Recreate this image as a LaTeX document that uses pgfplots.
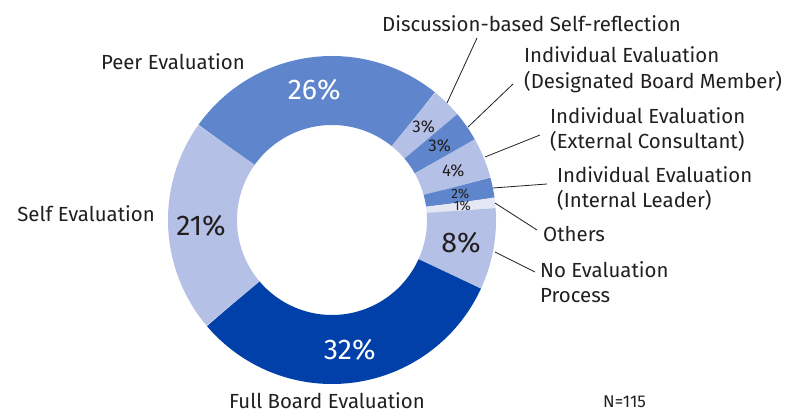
\documentclass[border=0pt]{standalone}
\usepackage{fontspec}
\setmainfont{Fira Sans}
\usepackage{pgfplots}
\pgfplotsset{compat=1.18}
\usepackage{pgfplotstable}
\usepgfplotslibrary{polar}

\definecolor{dark}{HTML}{0040A8}
\definecolor{mid}{HTML}{5F86CC}
\definecolor{light}{HTML}{B4C0E6}
\definecolor{pale}{HTML}{E4E8F5}
\definecolor{ink}{HTML}{231F20}

\tikzset{
  big/.style={font=\fontsize{28.5}{32}\selectfont, inner sep=0pt},
  small/.style={font=\fontsize{17}{19}\selectfont, inner sep=0pt},
  tiny/.style={font=\fontsize{13.5}{15}\selectfont, inner sep=0pt},
  lab/.style={font=\fontsize{20.4}{24}\selectfont, text=ink, inner sep=0pt, anchor=base west},
  lead/.style={draw=ink, line width=0.8pt}
}

% share of answers, clockwise from Peer Evaluation
\pgfplotstableread{
value shade ink size
26 mid white big
3 light ink small
3 mid ink small
4 light ink small
2 mid ink tiny
1 pale ink tiny
8 light ink big
32 dark white big
21 light ink big
}\slices

\begin{document}
\begin{tikzpicture}[x=1pt,y=1pt]
\useasboundingbox (0,0) rectangle (794,412);
\begin{polaraxis}[
    at={(332pt,192pt)}, anchor=center,
    scale only axis, width=328pt, height=328pt,
    hide axis, clip=false,
    xmin=0, xmax=360, ymin=0, ymax=164
  ]
  \def\cum{0}
  \pgfplotsforeachungrouped \i in {0,...,8}{%
    \pgfplotstablegetelem{\i}{value}\of\slices \let\sliceval\pgfplotsretval
    \pgfplotstablegetelem{\i}{shade}\of\slices \let\sliceshade\pgfplotsretval
    \pgfplotstablegetelem{\i}{ink}\of\slices \let\sliceink\pgfplotsretval
    \pgfplotstablegetelem{\i}{size}\of\slices \let\slicesize\pgfplotsretval
    \pgfmathsetmacro\angA{144.6-3.6*(\cum+\sliceval)}
    \pgfmathsetmacro\angB{144.6-3.6*\cum}
    \pgfmathsetmacro\angM{(\angA+\angB)/2}
    \edef\temp{%
      \noexpand\addplot[draw=\sliceshade, line width=69pt, domain=\angA:\angB, samples=90, mark=none] {129.5};
      \noexpand\node[\slicesize, text=\sliceink] at (axis cs:\angM,131) {\sliceval\noexpand\%};}%
    \temp
    \pgfmathsetmacro\cum{\cum+\sliceval}
  }
\end{polaraxis}

% leader lines
\draw[lead] (447,309) -- (477,374);
\draw[lead] (468,285) -- (513,328);
\draw[lead] (485,255) -- (540,277);
\draw[lead] (493,224) -- (547,228);
\draw[lead] (495,209) -- (537,182);
\draw[lead] (495,160) -- (535,140);

% category labels
\node[lab] at (382,380) {Discussion-based Self-reflection};
\node[lab] at (524,349) {Individual Evaluation};
\node[lab] at (524,323) {(Designated Board Member)};
\node[lab] at (550,288) {Individual Evaluation};
\node[lab] at (550,263) {(External Consultant)};
\node[lab] at (557,229) {Individual Evaluation};
\node[lab] at (557,204) {(Internal Leader)};
\node[lab] at (543,170) {Others};
\node[lab] at (540,134) {No Evaluation};
\node[lab] at (540,109) {Process};
\node[lab, anchor=base east] at (245,342) {Peer Evaluation};
\node[lab, anchor=base east] at (155,190) {Self Evaluation};
\node[lab] at (229,4) {Full Board Evaluation};
\node[lab, font=\fontsize{17}{20}\selectfont] at (603,5) {N=115};
\end{tikzpicture}
\end{document}
